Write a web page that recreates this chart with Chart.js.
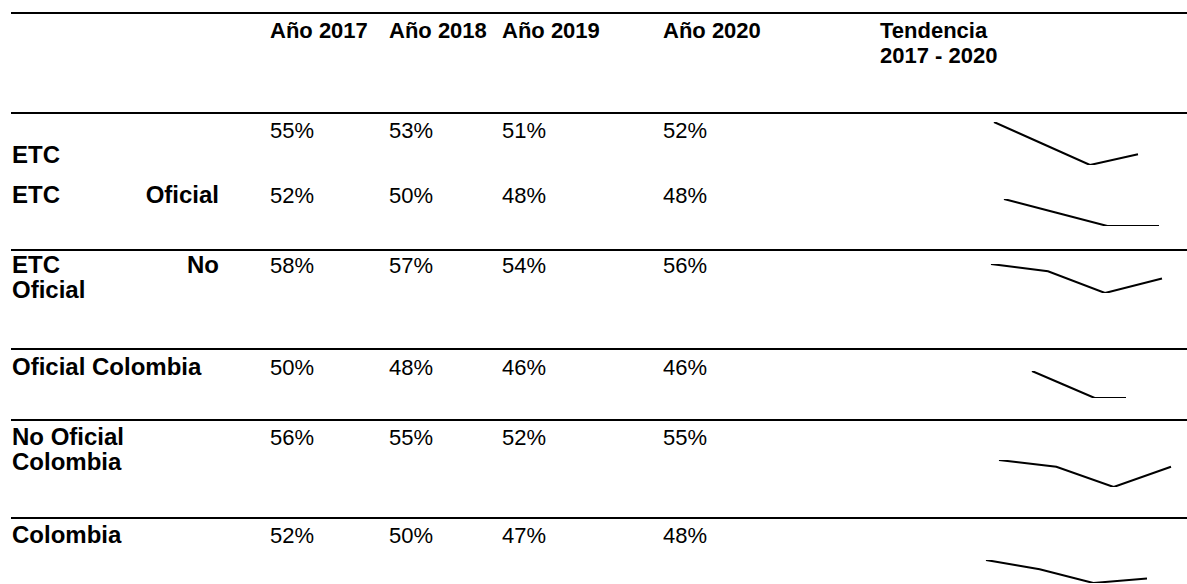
<!DOCTYPE html>
<html><head><meta charset="utf-8">
<script src="https://cdn.jsdelivr.net/npm/chart.js@4.4.1/dist/chart.umd.min.js"></script>
<style>
html,body{margin:0;padding:0;background:#fff}
body{width:1187px;height:584px;overflow:hidden;position:relative;font-family:"Liberation Sans",Arial,sans-serif;color:#000}
.t{position:absolute;white-space:nowrap}
.b{font-weight:bold}
.j{text-align:justify;text-align-last:justify;width:207px}
.rule{position:absolute;left:11px;width:1176px;height:2px;background:#000}
.spark{position:absolute}
</style></head><body>
<script>
// ---- data ----
const categories = ["Año 2017", "Año 2018", "Año 2019", "Año 2020"];
const trendHeader = ["Tendencia", "2017 - 2020"];
const etc = [55, 53, 51, 52];
const etcOficial = [52, 50, 48, 48];
const etcNoOficial = [58, 57, 54, 56];
const oficialColombia = [50, 48, 46, 46];
const noOficialColombia = [56, 55, 52, 55];
const colombia = [52, 50, 47, 48];
const rowLabels = [
  [["ETC"]],
  [["ETC", "Oficial"]],
  [["ETC", "No"], ["Oficial"]],
  [["Oficial Colombia"]],
  [["No Oficial"], ["Colombia"]],
  [["Colombia"]]
];
const rowSeries = [etc, etcOficial, etcNoOficial, oficialColombia, noOficialColombia, colombia];

// ---- layout (positions only) ----
const ruleY = [12, 112, 249, 348, 419, 517];
const colX = [270, 389, 502, 663];
const trendX = 880;
const headerBase = 38;
const valueBase = [138, 203, 273, 375, 445, 543];
const labelBase = [163, 203, 273, 375, 445, 543];
const labelX = 12;
const lineGap = 25;
const headFont = 22, valueFont = 22, labelFont = 24;
const sparkBox = [
  [994, 1138, 122, 165],
  [1004, 1159, 199, 226],
  [991, 1162, 264, 293],
  [1032, 1126, 371, 398],
  [999, 1171, 460, 487],
  [986, 1147, 560, 583]
];

function txt(s, x, base, fs, cls) {
  const lh = lineGap;
  const asc = (lh - 1.117 * fs) / 2 + 0.905 * fs;
  const d = document.createElement('div');
  d.className = 't ' + (cls || '');
  d.style.fontSize = fs + 'px';
  d.style.lineHeight = lh + 'px';
  d.style.left = x + 'px';
  d.style.top = (base - asc) + 'px';
  d.textContent = s;
  document.body.appendChild(d);
  return d;
}
ruleY.forEach(y => {
  const r = document.createElement('div');
  r.className = 'rule'; r.style.top = y + 'px';
  document.body.appendChild(r);
});
categories.forEach((c, i) => txt(c, colX[i], headerBase, headFont, 'b'));
trendHeader.forEach((c, i) => txt(c, trendX, headerBase + i * lineGap, headFont, 'b'));
rowLabels.forEach((lines, r) => {
  lines.forEach((parts, k) => {
    txt(parts.join(' '), labelX, labelBase[r] + k * lineGap, labelFont, 'b' + (parts.length > 1 ? ' j' : ''));
  });
});
rowSeries.forEach((vals, r) => {
  vals.forEach((v, i) => txt(v + '%', colX[i], valueBase[r], valueFont, ''));
});

// ---- sparklines via Chart.js ----
const pad = 2;
rowSeries.forEach((vals, r) => {
  const [x0, x1, yt, yb] = sparkBox[r];
  const cv = document.createElement('canvas');
  cv.className = 'spark';
  const w = x1 - x0 + 2 * pad, h = yb - yt + 2 * pad;
  cv.width = w; cv.height = h;
  cv.style.left = (x0 - pad) + 'px';
  cv.style.top = (yt - pad) + 'px';
  cv.style.width = w + 'px'; cv.style.height = h + 'px';
  document.body.appendChild(cv);
  new Chart(cv, {
    type: 'line',
    data: { labels: categories, datasets: [{ data: vals, borderColor: '#000', borderWidth: 2, pointRadius: 0, tension: 0, fill: false }] },
    options: {
      responsive: false, animation: false, events: [],
      layout: { padding: pad },
      plugins: { legend: { display: false }, tooltip: { enabled: false } },
      scales: {
        x: { display: false, offset: false },
        y: { display: false, min: Math.min(...vals), max: Math.max(...vals) }
      }
    }
  });
});
</script>
</body></html>
